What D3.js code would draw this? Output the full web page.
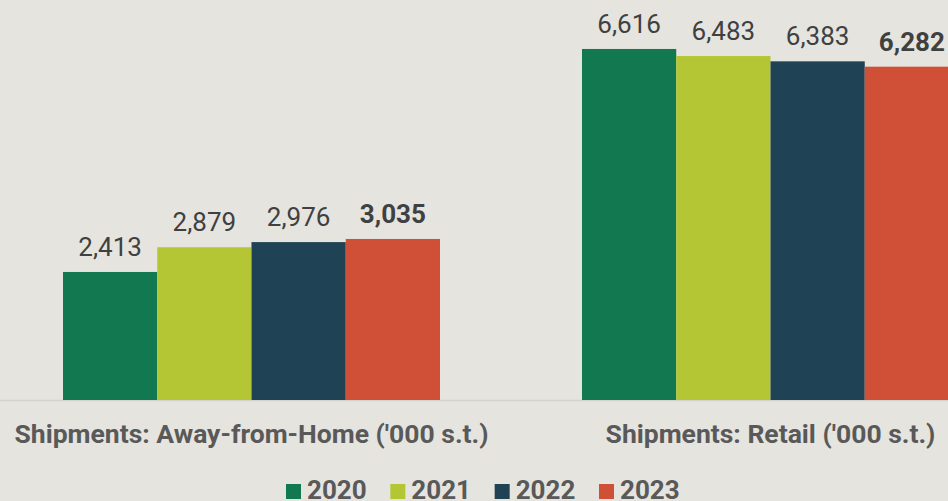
<!DOCTYPE html>
<html lang="en">
<head>
<meta charset="UTF-8">
<title>Shipments</title>
<script src="https://cdn.jsdelivr.net/npm/d3@7"></script>
<style>
    body { margin: 0; background: #e5e4df; }
    svg { display: block; font-family: Roboto, sans-serif; }
</style>
</head>
<body>
<svg id="chart"></svg>
<script>
    // Data
    const categories = ["Shipments: Away-from-Home ('000 s.t.)", "Shipments: Retail ('000 s.t.)"];
    const years = ["2020", "2021", "2022", "2023"];
    const values2020 = [2413, 6616];
    const values2021 = [2879, 6483];
    const values2022 = [2976, 6383];
    const values2023 = [3035, 6282];
    const colors = ["#11784f", "#b4c634", "#1f4255", "#cf5036"];

    const seriesValues = [values2020, values2021, values2022, values2023];

    var width = 948, height = 501;
    var baseline = 400;

    var svg = d3.select("#chart")
        .attr("width", width)
        .attr("height", height);

    svg.append("rect")
        .attr("width", width).attr("height", height)
        .attr("fill", "#e5e4df");

    // Scales
    const x0 = d3.scaleBand()
        .domain(categories)
        .range([63, 959])
        .paddingInner(0.2736)
        .paddingOuter(0);

    const x1 = d3.scaleBand()
        .domain(years)
        .range([0, x0.bandwidth()])
        .padding(0);

    const y = d3.scaleLinear()
        .domain([0, 7000])
        .range([baseline, baseline - 371.4]);

    // baseline rule
    svg.append("line")
        .attr("x1", 0).attr("x2", width)
        .attr("y1", baseline + 0.5).attr("y2", baseline + 0.5)
        .attr("stroke", "#d3d2cd")
        .attr("stroke-width", 1.5);

    const groups = svg.selectAll("g.group")
        .data(categories)
        .enter()
        .append("g")
        .attr("class", "group")
        .attr("transform", d => "translate(" + x0(d) + ",0)");

    groups.each(function (cat, ci) {
        const g = d3.select(this);
        years.forEach((yr, si) => {
            const v = seriesValues[si][ci];
            g.append("rect")
                .attr("x", x1(yr))
                .attr("y", y(v))
                .attr("width", x1.bandwidth())
                .attr("height", baseline - y(v))
                .attr("fill", colors[si]);
            g.append("text")
                .attr("x", x1(yr) + x1.bandwidth() / 2)
                .attr("y", y(v) - 16)
                .attr("text-anchor", "middle")
                .attr("font-size", 26)
                .attr("font-weight", si === 3 ? "bold" : "normal")
                .attr("fill", "#404040")
                .text(d3.format(",")(v));
        });
        g.append("text")
            .attr("x", x0.bandwidth() / 2)
            .attr("y", 443)
            .attr("text-anchor", "middle")
            .attr("font-size", 26.5)
            .attr("font-weight", "bold")
            .attr("fill", "#595959")
            .text(cat);
    });

    // Legend
    const legend = svg.append("g");
    const legendX = d3.scalePoint().domain(years).range([286, 599]);
    years.forEach((yr, i) => {
        const lx = legendX(yr);
        legend.append("rect")
            .attr("x", lx).attr("y", 484)
            .attr("width", 15).attr("height", 15)
            .attr("fill", colors[i]);
        legend.append("text")
            .attr("x", lx + 21).attr("y", 499)
            .attr("font-size", 26)
            .attr("font-weight", "bold")
            .attr("fill", "#595959")
            .text(yr);
    });
</script>
</body>
</html>
